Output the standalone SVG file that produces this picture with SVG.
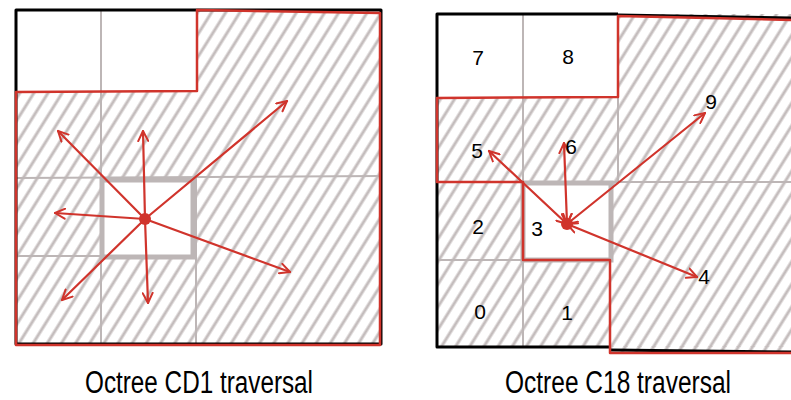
<svg xmlns="http://www.w3.org/2000/svg" width="791" height="400" viewBox="0 0 791 400">
<style>
.grid{stroke:#bdb6b6;stroke-width:2;fill:none;stroke-linecap:round}
.thick{stroke:#bdb6b6;stroke-width:5;fill:none}
.outer{stroke:#000;stroke-width:3;fill:none;stroke-linejoin:round}
.red{stroke:#d0342c;stroke-width:2.5;fill:none;stroke-linejoin:round}
.arrow{stroke:#d0342c;stroke-width:2.2;fill:none;stroke-linecap:round}
.lbl{font-family:"Liberation Sans",Arial,sans-serif;font-size:21px;fill:#000;text-anchor:middle}
.cap{font-family:"Liberation Sans",Arial,sans-serif;font-size:31px;fill:#000;text-anchor:middle}
</style>
<defs>
<pattern id="hatch" patternUnits="userSpaceOnUse" width="12" height="12" patternTransform="rotate(32)">
<line x1="6" y1="-2" x2="6" y2="14" stroke="#c4bdbd" stroke-width="3"/>
</pattern>
<marker id="ah" viewBox="0 0 12 12" refX="11" refY="6" markerWidth="12" markerHeight="12" markerUnits="userSpaceOnUse" orient="auto-start-reverse">
<path d="M1,1 L11,6 L1,11" fill="none" stroke="#d0342c" stroke-width="2" stroke-linecap="round" stroke-linejoin="round"/>
</marker>
</defs>

<g id="left-diagram">
<rect x="16" y="10" width="364" height="335" fill="url(#hatch)"/>
<rect x="16" y="10" width="180" height="82" fill="#fff"/>
<rect x="102" y="180" width="91" height="77" fill="#fff"/>
<g id="left-grid">
<line class="grid" x1="101" y1="10" x2="101" y2="345"/>
<line class="grid" x1="16" y1="178" x2="380" y2="176"/>
<line class="grid" x1="16" y1="256" x2="196" y2="256"/>
<line class="grid" x1="196" y1="176" x2="196" y2="345"/>
<rect class="thick" x="102" y="180" width="91" height="77"/>
</g>
<rect class="outer" x="16" y="10" width="365" height="334"/>
<polygon class="red" points="16,92 197,91 197,10 380,13 380,345 16,345"/>
</g>

<g id="right-diagram">
<rect x="437" y="14" width="354" height="333" fill="url(#hatch)"/>
<rect x="610" y="346" width="181" height="7" fill="url(#hatch)"/>
<rect x="437" y="14" width="181" height="84" fill="#fff"/>
<rect x="523" y="182" width="88" height="78" fill="#fff"/>
<g id="right-grid">
<line class="grid" x1="523" y1="14" x2="523" y2="347"/>
<line class="grid" x1="437" y1="182" x2="791" y2="182"/>
<line class="grid" x1="437" y1="260" x2="523" y2="260"/>
<line class="grid" x1="618" y1="98" x2="618" y2="182"/>
<rect class="thick" x="523" y="183" width="88" height="77"/>
</g>
<polyline class="outer" points="618,14 437,14 437,347 610,347"/>
<polyline class="outer" points="618,15 791,18"/>
<polyline class="outer" points="610,350 791,352"/>
<polygon class="red" points="437,98 618,97 618,16 795,20 795,353 610,353 610,260 523,260 523,182 437,182"/>
</g>

<g id="connectors">
<g id="left-arrows">
<line class="arrow" x1="145" y1="219" x2="58" y2="131" marker-end="url(#ah)"/>
<line class="arrow" x1="145" y1="219" x2="143" y2="131" marker-end="url(#ah)"/>
<line class="arrow" x1="145" y1="219" x2="287" y2="101" marker-end="url(#ah)"/>
<line class="arrow" x1="145" y1="219" x2="55" y2="213" marker-end="url(#ah)"/>
<line class="arrow" x1="145" y1="219" x2="62" y2="300" marker-end="url(#ah)"/>
<line class="arrow" x1="145" y1="219" x2="148" y2="303" marker-end="url(#ah)"/>
<line class="arrow" x1="145" y1="219" x2="290" y2="272" marker-end="url(#ah)"/>
</g>
<circle cx="145" cy="219" r="6" fill="#d0342c"/>
<g id="right-arrows">
<line class="arrow" x1="567" y1="224" x2="489" y2="151" marker-start="url(#ah)" marker-end="url(#ah)"/>
<line class="arrow" x1="567" y1="224" x2="564" y2="143" marker-start="url(#ah)" marker-end="url(#ah)"/>
<line class="arrow" x1="567" y1="224" x2="705" y2="113" marker-start="url(#ah)" marker-end="url(#ah)"/>
<line class="arrow" x1="567" y1="224" x2="697" y2="277" marker-start="url(#ah)" marker-end="url(#ah)"/>
</g>
<circle cx="567" cy="224" r="6" fill="#d0342c"/>
</g>

<g id="labels">
<text class="lbl" x="478" y="65">7</text>
<text class="lbl" x="568" y="64">8</text>
<text class="lbl" x="477" y="158">5</text>
<text class="lbl" x="571" y="154">6</text>
<text class="lbl" x="711" y="109">9</text>
<text class="lbl" x="478" y="234">2</text>
<text class="lbl" x="537" y="236">3</text>
<text class="lbl" x="704" y="284">4</text>
<text class="lbl" x="480" y="319">0</text>
<text class="lbl" x="567" y="320">1</text>
</g>

<g id="captions">
<text class="cap" x="199" y="393" textLength="228" lengthAdjust="spacingAndGlyphs">Octree CD1 traversal</text>
<text class="cap" x="618" y="393" textLength="226" lengthAdjust="spacingAndGlyphs">Octree C18 traversal</text>
</g>
</svg>
